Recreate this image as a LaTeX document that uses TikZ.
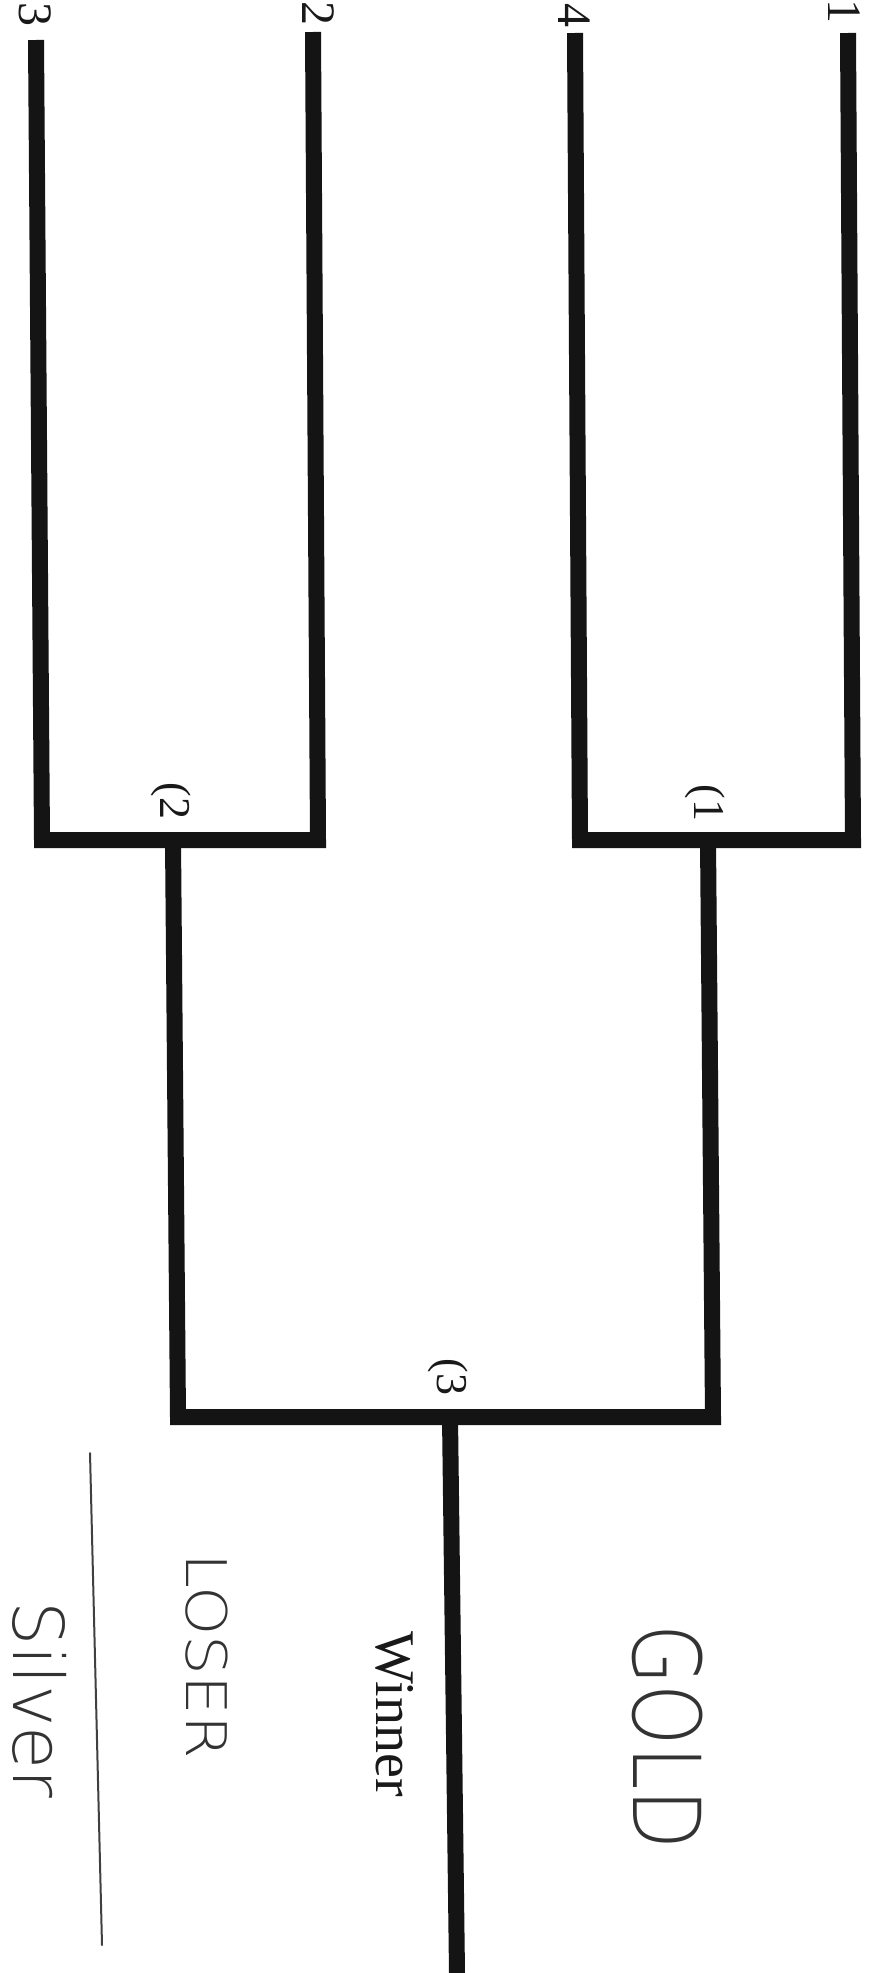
\documentclass[tikz,border=0pt]{standalone}
\usepackage{fontspec}
\setmainfont{Liberation Serif}
\IfFontExistsTF{DejaVu Sans ExtraLight}
  {\newfontfamily\handfont{DejaVu Sans ExtraLight}}
  {\newfontfamily\handfont{DejaVu Sans}}
\begin{document}
\begin{tikzpicture}[x=1pt,y=-1pt,
  bracket/.style={line width=16pt, line join=miter, line cap=butt, draw=black!92},
  seed/.style={font=\fontsize{48}{48}\selectfont, rotate=-90, inner sep=0pt, text=black!90},
  matchlab/.style={font=\fontsize{44}{44}\selectfont, rotate=-90, inner sep=0pt, text=black!90},
  printed/.style={font=\fontsize{56}{56}\selectfont, rotate=-90, inner sep=0pt, text=black!90},
  hand/.style={rotate=-90, inner sep=0pt, text=black!80},
  thin/.style={line width=2pt, draw=black!75, line cap=round}]
\useasboundingbox[fill=white] (0,0) rectangle (869,1973);

% entry line ends
\coordinate (t3) at (36,40);
\coordinate (t2) at (313,32);
\coordinate (t4) at (575,33);
\coordinate (t1) at (848,33);
% first-round corners
\coordinate (b3) at (42,840);
\coordinate (b2) at (318,840);
\coordinate (b4) at (580,840);
\coordinate (b1) at (853,840);
% first-round winners
\coordinate (m2top) at (173,840);
\coordinate (m1top) at (708,840);
\coordinate (m2bot) at (178,1417);
\coordinate (m1bot) at (713,1417);
% final
\coordinate (ftop) at (450,1417);
\coordinate (fbot) at (457,1973);
% separator line
\coordinate (s1) at (90,1453);
\coordinate (s2) at (102,1945);

\draw[bracket] (t3) -- (b3) -- (b2) -- (t2);
\draw[bracket] (t4) -- (b4) -- (b1) -- (t1);
\draw[bracket] (m2top) -- (m2bot) -- (m1bot) -- (m1top);
\draw[bracket] (ftop) -- (fbot);
\draw[thin] (s1) -- (s2);

\node[seed] (n3) at (35,14) {3};
\node[seed] (n2) at (318,13) {2};
\node[seed] (n4) at (574,15) {4};
\node[seed] (n1) at (844,11) {1};

\node[matchlab] (g2) at (171,801) {(2};
\node[matchlab] (g1) at (705,803) {(1};
\node[matchlab] (g3) at (448,1377) {(3};

\node[printed] (win) at (395,1714) {Winner};

\node[hand, font=\handfont\fontsize{78}{78}\selectfont] (gold) at (668,1737) {\scalebox{1}[1.2]{GOLD}};
\node[hand, font=\handfont\fontsize{56}{56}\selectfont] (loser) at (207,1656) {\scalebox{1.12}[1]{LOSER}};
\node[hand, font=\handfont\fontsize{70}{70}\selectfont] (silver) at (40,1700) {Silver};
\end{tikzpicture}
\end{document}
